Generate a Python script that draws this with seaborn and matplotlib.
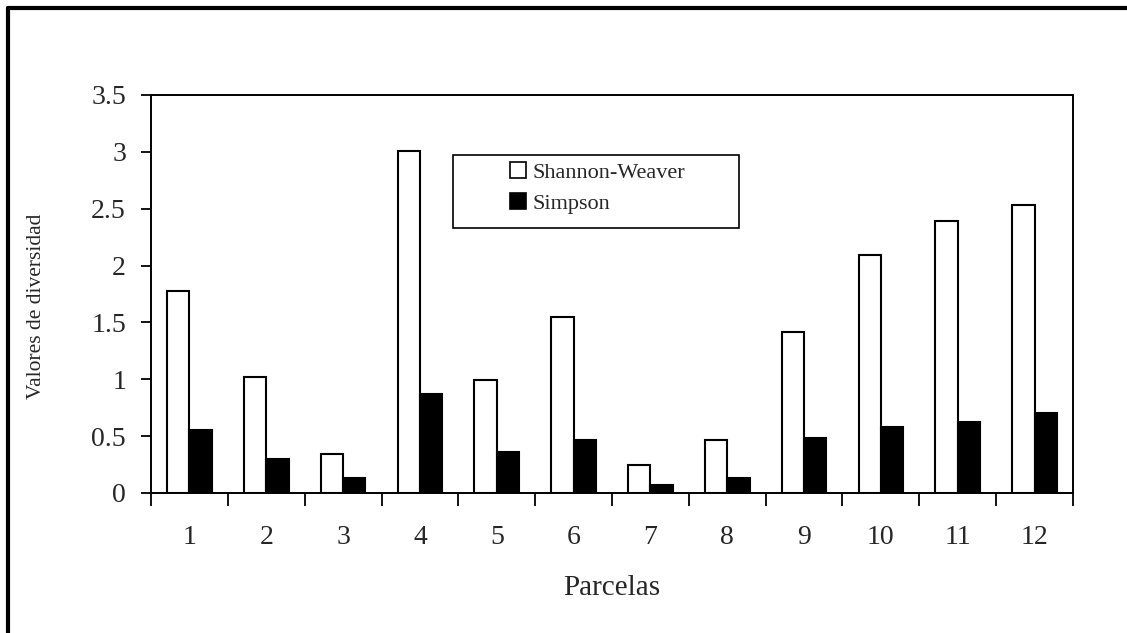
import numpy as np
import pandas as pd
import seaborn as sns
import matplotlib.pyplot as plt
from matplotlib.lines import Line2D
from matplotlib.patches import Rectangle
from matplotlib.ticker import FixedLocator

parcelas = [str(i) for i in range(1, 13)]
shannon = [1.78, 1.02, 0.34, 3.01, 0.99, 1.55, 0.25, 0.47, 1.42, 2.09, 2.39, 2.53]
simpson = [0.55, 0.30, 0.13, 0.87, 0.36, 0.47, 0.07, 0.13, 0.48, 0.58, 0.62, 0.70]
series = ["Shannon-Weaver", "Simpson"]
yticks = [0, 0.5, 1, 1.5, 2, 2.5, 3, 3.5]
ytick_labels = ["0", "0.5", "1", "1.5", "2", "2.5", "3", "3.5"]

df = pd.DataFrame({
    "Parcela": parcelas * 2,
    "Valor": shannon + simpson,
    "Indice": [series[0]] * 12 + [series[1]] * 12,
})

sns.set_theme(style="white")
plt.rcParams["font.family"] = ["Liberation Serif", "DejaVu Serif"]

W, H = 1127, 633
fig = plt.figure(figsize=(W / 100, H / 100), dpi=100)
ax_l, ax_r, ax_t, ax_b = 151, 1073, 95, 493
ax = fig.add_axes([ax_l / W, 1 - ax_b / H, (ax_r - ax_l) / W, (ax_b - ax_t) / H])

sns.barplot(data=df, x="Parcela", y="Valor", hue="Indice",
            palette={series[0]: "white", series[1]: "black"},
            edgecolor="black", linewidth=1.5, width=0.58, saturation=1,
            ax=ax)

ax.set_xlim(-0.5, 11.5)
ax.set_ylim(0, 3.5)
ax.set_yticks(yticks)
ax.set_yticklabels(ytick_labels)

ax.xaxis.set_minor_locator(FixedLocator(np.arange(-0.5, 12, 1)))
ax.tick_params(axis="x", which="major", length=0, pad=23, labelsize=20)
ax.tick_params(axis="x", which="minor", length=9, width=1.3, direction="out",
               bottom=True, color="black")
ax.tick_params(axis="y", which="major", length=7, width=1.3, direction="out",
               left=True, pad=11, labelsize=20, color="black")

for s in ax.spines.values():
    s.set_visible(True)
    s.set_color("black")
    s.set_linewidth(1.4)

ax.set_xlabel("Parcelas", fontsize=21, labelpad=18)
ax.set_ylabel("Valores de diversidad", fontsize=15.5)
ax.yaxis.set_label_coords(-0.114, 0.47)

# legend (no frame) placed with handles starting at x=512 px, rows centred ~187 px
leg = ax.legend(loc="center left",
                bbox_to_anchor=(510 / W, 1 - 188 / H),
                bbox_transform=fig.transFigure,
                fontsize=16, frameon=False,
                handlelength=0.7, handleheight=0.7, handletextpad=0.3,
                labelspacing=0.45, borderpad=0, borderaxespad=0, title=None)
for h in leg.legend_handles:
    h.set_edgecolor("black")
    h.set_linewidth(1.2)

# legend box as in the reference
fig.add_artist(Rectangle((453 / W, 1 - 228 / H), (739 - 453) / W, (228 - 155) / H,
                         transform=fig.transFigure, fill=False,
                         edgecolor="black", linewidth=1.2, zorder=5))

fig.add_artist(Line2D([8 / W, 8 / W], [0, 1 - 8 / H], transform=fig.transFigure,
                      color="black", linewidth=3))
fig.add_artist(Line2D([8 / W, 1], [1 - 8 / H, 1 - 8 / H], transform=fig.transFigure,
                      color="black", linewidth=3))

fig.savefig("out.png", dpi=100, facecolor="white")
